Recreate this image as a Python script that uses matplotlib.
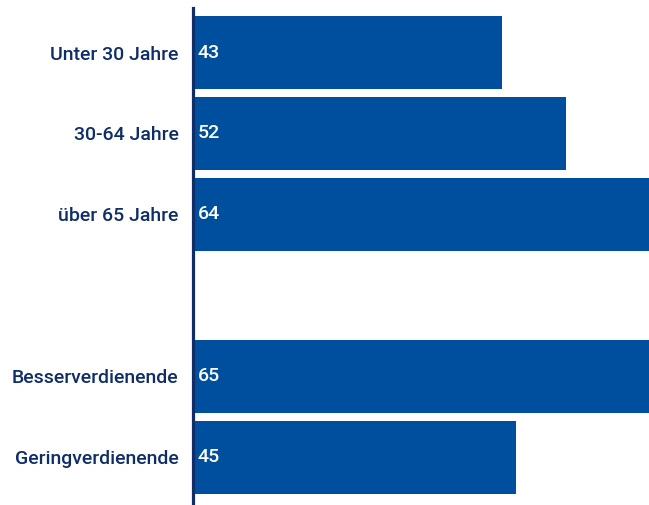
import numpy as np
import matplotlib.pyplot as plt

labels = ['Unter 30 Jahre', '30-64 Jahre', 'über 65 Jahre', '', 'Besserverdienende', 'Geringverdienende']
values = [43, 52, 64, None, 65, 45]
positions = [0, 1, 2, 3, 4, 5]

bar_color = '#004f9e'
text_color = '#0f2d69'

plt.rcParams['font.family'] = ['Roboto', 'DejaVu Sans']

fig = plt.figure(figsize=(6.49, 5.05), dpi=100)
ax = fig.add_axes([192.5 / 649, 0, 1 - 192.5 / 649, 497 / 505])

for p, v in zip(positions, values):
    if v is None:
        continue
    ax.barh(p, v, height=0.9, color=bar_color, zorder=1)
    ax.text(0.75, p, str(v), color='white', fontsize=14, fontweight='medium',
            va='center', ha='left', zorder=3)

ax.set_xlim(0, 63.5)
ax.set_ylim(5.59, -0.55)
ax.set_yticks(positions)
ax.set_yticklabels(labels, fontsize=14, fontweight='medium', color=text_color)
ax.tick_params(axis='y', length=0, pad=10)
ax.set_xticks([])
for s in ['top', 'right', 'bottom']:
    ax.spines[s].set_visible(False)
ax.spines['left'].set_color(text_color)
ax.spines['left'].set_linewidth(2.3)
ax.spines['left'].set_zorder(4)

fig.savefig('out.png', dpi=100)
